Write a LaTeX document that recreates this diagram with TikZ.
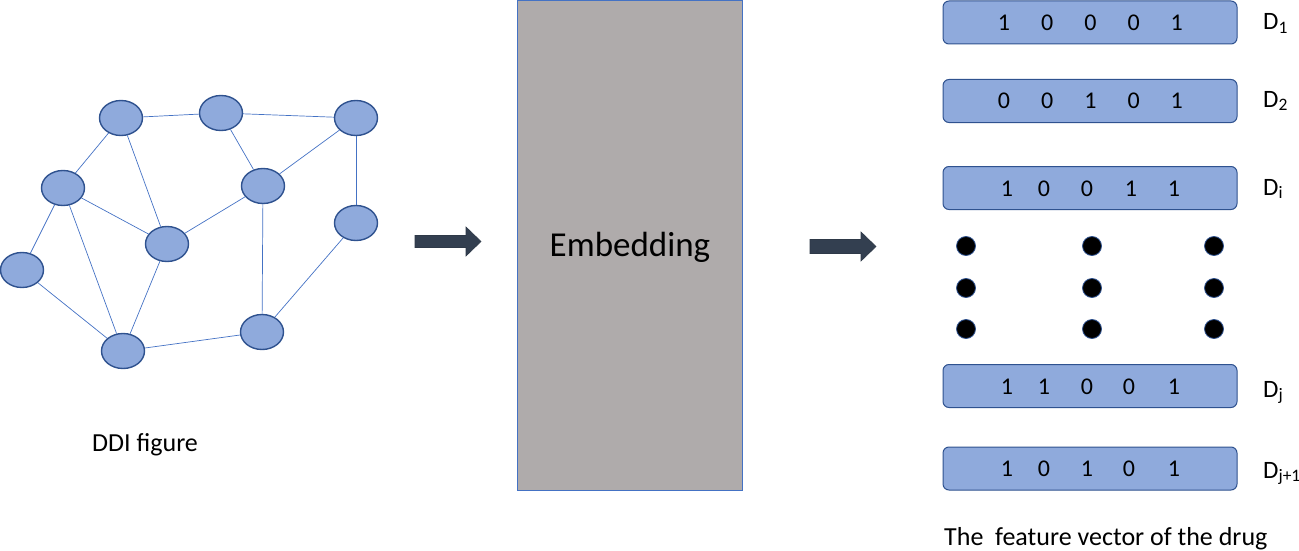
\documentclass[tikz,border=0pt]{standalone}
\usepackage{fontspec}
\setmainfont{Carlito}
\usetikzlibrary{shapes.geometric}
\definecolor{nodefill}{HTML}{8FAADC}
\definecolor{nodeline}{HTML}{2F528F}
\definecolor{edgecol}{HTML}{4472C4}
\definecolor{embfill}{HTML}{AFABAB}
\definecolor{arrowcol}{HTML}{333F50}
\begin{document}
\begin{tikzpicture}[x=1pt,y=-1pt,
  gnode/.style={ellipse,draw=nodeline,fill=nodefill,line width=1.4pt,minimum width=43pt,minimum height=35pt,inner sep=0pt},
  gedge/.style={draw=edgecol,line width=0.7pt},
  vecbox/.style={rectangle,rounded corners=6pt,draw=nodeline,fill=nodefill,line width=1pt,minimum width=294pt,minimum height=43pt,inner sep=0pt},
  digit/.style={font=\fontsize{24}{28}\selectfont,inner sep=0pt,anchor=center},
  dlabel/.style={font=\fontsize{25}{29}\selectfont,inner sep=0pt,anchor=base west},
  blackdot/.style={circle,fill=black,draw=nodeline,line width=0.8pt,minimum size=19pt,inner sep=0pt},
  bigarrow/.style={fill=arrowcol,draw=arrowcol!90!black,line width=0.6pt},
  caption/.style={font=\fontsize{26}{30}\selectfont,inner sep=0pt}
]
\useasboundingbox (0,0) rectangle (1299,551);
% graph
\node[gnode] (n1) at (121,118) {};
\node[gnode] (n2) at (221,113) {};
\node[gnode] (n3) at (356,118) {};
\node[gnode] (n4) at (63,188) {};
\node[gnode] (n5) at (263,186) {};
\node[gnode] (n6) at (356,223) {};
\node[gnode] (n7) at (167,244) {};
\node[gnode] (n8) at (22,270) {};
\node[gnode] (n9) at (123,351) {};
\node[gnode] (n10) at (262,332) {};
\foreach \a/\b in {n1/n2,n2/n3,n1/n4,n1/n7,n2/n5,n3/n5,n3/n6,n4/n7,n4/n8,n4/n9,n7/n5,n7/n9,n8/n9,n9/n10,n5/n10,n6/n10}
  \draw[gedge] (\a) -- (\b);
\node[caption,anchor=west] (ddi) at (92,445) {DDI figure};
% arrows
\fill[bigarrow] (415,235.5) -- (466,235.5) -- (466,227) -- (481,241.5) -- (466,256) -- (466,247.5) -- (415,247.5) -- cycle;
\fill[bigarrow] (810,239.5) -- (861,239.5) -- (861,232) -- (876,246.5) -- (861,261) -- (861,253.5) -- (810,253.5) -- cycle;
% embedding
\node[rectangle,draw=edgecol,fill=embfill,line width=0.9pt,minimum width=225pt,minimum height=490pt,inner sep=0pt] (emb) at (629.5,245) {};
\node[font=\fontsize{35}{41}\selectfont,inner sep=0pt] (embtext) at (630,247) {Embedding};
% vectors
\node[vecbox] (v1) at (1090,22.5) {};
\node[vecbox] (v2) at (1090,101) {};
\node[vecbox] (vi) at (1090,188) {};
\node[vecbox] (vj) at (1090,386) {};
\node[vecbox] (vk) at (1090,468.5) {};
\foreach \d [count=\k] in {1,0,0,0,1}
  \node[digit] (a\k) at ({1004+43.2*(\k-1)},23) {\d};
\foreach \d [count=\k] in {0,0,1,0,1}
  \node[digit] (b\k) at ({1004+43.2*(\k-1)},101) {\d};
\foreach \d/\x [count=\k] in {1/1007,0/1044,0/1087,1/1131,1/1174}
  \node[digit] (c\k) at (\x,189) {\d};
\foreach \d/\x [count=\k] in {1/1007,1/1044,0/1087,0/1129,1/1174}
  \node[digit] (e\k) at (\x,387) {\d};
\foreach \d/\x [count=\k] in {1/1007,0/1044,1/1087,0/1129,1/1174}
  \node[digit] (f\k) at (\x,469) {\d};
\node[dlabel] (l1) at (1263,30) {D\textsubscript{1}};
\node[dlabel] (l2) at (1263,107) {D\textsubscript{2}};
\node[dlabel] (li) at (1263,195) {D\textsubscript{i}};
\node[dlabel] (lj) at (1263,397) {D\textsubscript{j}};
\node[dlabel] (lk) at (1263,478) {D\textsubscript{j+1}};
% dots
\foreach \x/\c in {966/p,1092/q,1214/r}
  \foreach \y/\r in {246/1,288/2,329/3}
    \node[blackdot] (\c\r) at (\x,\y) {};
\node[caption,anchor=west] (title) at (944,539) {The\ \ feature vector of the drug};
\end{tikzpicture}
\end{document}
